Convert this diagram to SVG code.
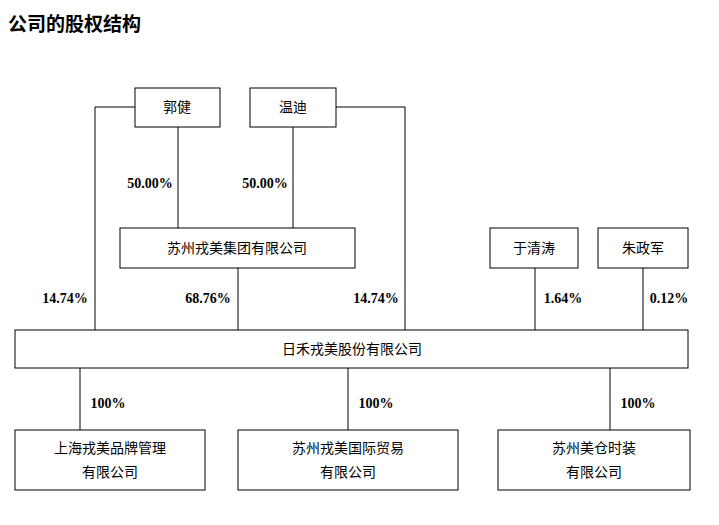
<svg xmlns="http://www.w3.org/2000/svg" width="719" height="525" viewBox="0 0 719 525">
<style>
.b{fill:#fff;stroke:#000;stroke-width:1}
.t{font-family:"Liberation Serif","Noto Sans CJK SC",serif;font-size:14px;text-anchor:middle}
.p{font-family:"Liberation Serif","Noto Sans CJK SC",serif;font-size:14px;font-weight:bold;text-anchor:middle}
.c{fill:none;stroke:#000;stroke-width:1}
</style>
<rect width="719" height="525" fill="#fff"/>
<text x="8" y="31" style="font-family:'Noto Sans CJK SC',sans-serif;font-size:19px;font-weight:bold">公司的股权结构</text>
<g id="connectors" class="c">
<polyline points="135,107 95,107 95,330"/>
<polyline points="336,107 405,107 405,330"/>
<line x1="178" y1="127" x2="178" y2="228"/>
<line x1="293" y1="127" x2="293" y2="228"/>
<line x1="238" y1="268" x2="238" y2="330"/>
<line x1="535" y1="268" x2="535" y2="330"/>
<line x1="643" y1="268" x2="643" y2="330"/>
<line x1="80" y1="368" x2="80" y2="430"/>
<line x1="348" y1="368" x2="348" y2="430"/>
<line x1="610" y1="368" x2="610" y2="430"/>
</g>
<g id="labels">
<text class="p" x="150" y="188">50.00%</text>
<text class="p" x="265" y="188">50.00%</text>
<text class="p" x="65" y="303">14.74%</text>
<text class="p" x="208" y="303">68.76%</text>
<text class="p" x="376" y="303">14.74%</text>
<text class="p" x="563" y="303">1.64%</text>
<text class="p" x="669" y="303">0.12%</text>
<text class="p" x="108" y="408">100%</text>
<text class="p" x="376" y="408">100%</text>
<text class="p" x="638" y="408">100%</text>
</g>
<g id="guojian"><rect class="b" x="135" y="88" width="85" height="39"/><text class="t" x="177" y="112">郭健</text></g>
<g id="wendi"><rect class="b" x="250" y="88" width="86" height="39"/><text class="t" x="293" y="112">温迪</text></g>
<g id="group"><rect class="b" x="120" y="228" width="235" height="40"/><text class="t" x="237" y="253">苏州戎美集团有限公司</text></g>
<g id="yuqingtao"><rect class="b" x="490" y="228" width="88" height="40"/><text class="t" x="534" y="253">于清涛</text></g>
<g id="zhuzhengjun"><rect class="b" x="598" y="228" width="90" height="40"/><text class="t" x="643" y="253">朱政军</text></g>
<g id="main"><rect class="b" x="15" y="330" width="673" height="38"/><text class="t" x="352" y="354">日禾戎美股份有限公司</text></g>
<g id="sub1"><rect class="b" x="15" y="430" width="190" height="60"/><text class="t" x="110" y="453">上海戎美品牌管理</text><text class="t" x="110" y="477">有限公司</text></g>
<g id="sub2"><rect class="b" x="238" y="430" width="220" height="60"/><text class="t" x="348" y="453">苏州戎美国际贸易</text><text class="t" x="348" y="477">有限公司</text></g>
<g id="sub3"><rect class="b" x="498" y="430" width="192" height="60"/><text class="t" x="594" y="453">苏州美仓时装</text><text class="t" x="594" y="477">有限公司</text></g>
</svg>
